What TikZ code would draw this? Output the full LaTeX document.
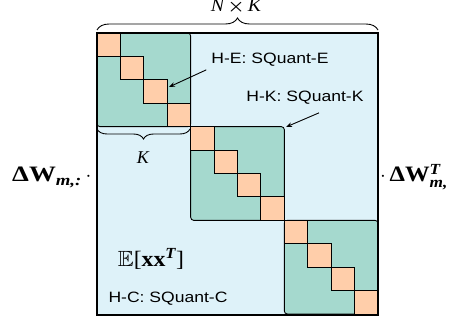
\documentclass[tikz,border=0pt]{standalone}
\usepackage{amsmath,amssymb}
\usepackage{fontspec}
\newfontfamily\labfont{Liberation Sans}
\newfontfamily\tfont{Liberation Serif}
\usetikzlibrary{decorations.pathreplacing,arrows.meta}
\definecolor{bgblue}{RGB}{222,242,249}
\definecolor{blockteal}{RGB}{165,217,206}
\definecolor{peach}{RGB}{255,206,170}
\begin{document}
\begin{tikzpicture}[x=1pt,y=-1pt,
  blockbox/.style={fill=blockteal,draw=black,line width=0.9pt,rounded corners=3pt},
  sqbox/.style={fill=peach,draw=black,line width=0.9pt},
  lab/.style={font=\labfont\fontsize{15}{17}\selectfont,inner sep=0pt},
  ptr/.style={-{Stealth[length=6pt,width=4.5pt]},line width=0.9pt},
  brc/.style={decorate,decoration={brace,amplitude=#1},line width=0.9pt},
  mth/.style={font=\tfont\fontsize{#1}{#1}\selectfont,inner sep=0pt}]
\useasboundingbox (0,0) rectangle (458,323);
\fill[bgblue] (97,33) rectangle (378,315);
\foreach \i in {0,1,2} {
  \pgfmathsetmacro\bx{97+\i*93.67}
  \pgfmathsetmacro\by{33+\i*93.67}
  \draw[blockbox] (\bx,\by) rectangle ++(93.67,93.67);
  \foreach \j in {0,1,2,3} {
    \draw[sqbox] (\bx+\j*23.42,\by+\j*23.42) rectangle ++(23.42,23.42);
  }
}
\draw[line width=2.5pt] (97,33) rectangle (378,315);
% braces
\draw[brc=12pt] (97,30) -- (378,30);
\draw[brc=10pt] (190,129) -- (97,129);
\node[mth=18, anchor=base] (nk) at (236,12) {\scalebox{1.1}[1]{\itshape N\,$\boldsymbol{\times}$\,K}};
\node[mth=18] (kl) at (143,158) {\itshape K};
% labels
\node[lab] (he) at (270,60) {\scalebox{1.17}[1]{H-E: SQuant-E}};
\node[lab] (hk) at (305,98) {\scalebox{1.17}[1]{H-K: SQuant-K}};
\node[lab] (hc) at (168,299) {\scalebox{1.17}[1]{H-C: SQuant-C}};
\coordinate (heTip) at (169,87);
\coordinate (hkTip) at (286,127);
\draw[ptr] ([xshift=-5pt,yshift=-3pt]he.south west) -- (heTip);
\draw[ptr] ([xshift=14pt,yshift=-8pt]hk.south) -- (hkTip);
% math
\node[mth=22] (ex) at (151,259) {\scalebox{1.08}[1]{$\mathbb{E}$[\textbf{xx}$^{\text{\bfseries\itshape T}}$]}};
\node[mth=22, anchor=base west] (lw) at (12,182) {\scalebox{1.22}[1]{\textbf{ΔW}$_{\text{\bfseries\itshape m,:}}$}\,$\cdot$};
\node[mth=22, anchor=base west] (rw) at (380,182) {$\cdot$\,\scalebox{1.12}[1]{\textbf{ΔW}$^{\text{\bfseries\itshape T}}_{\text{\bfseries\itshape m,}}$}};
\end{tikzpicture}
\end{document}
